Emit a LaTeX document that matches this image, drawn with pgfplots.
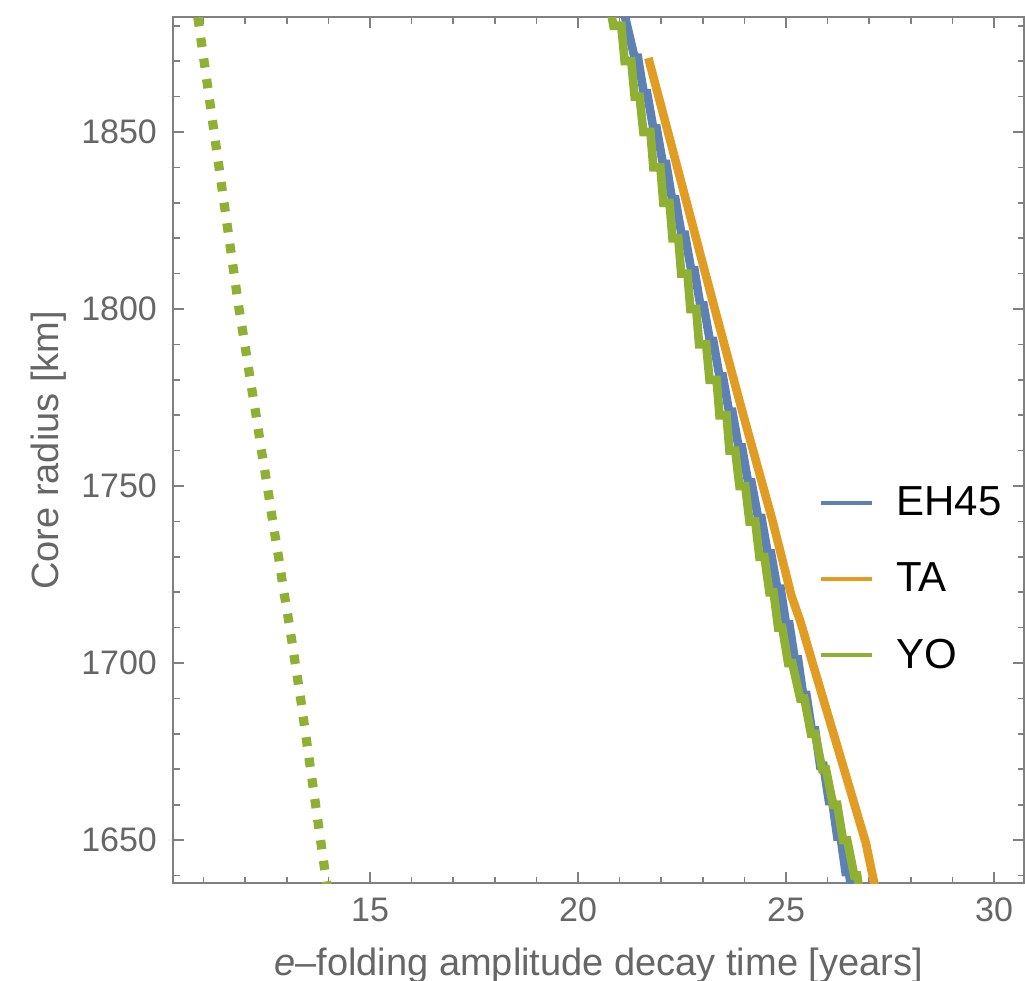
\documentclass[border=0pt]{standalone}
\usepackage{fontspec}
\setmainfont{Liberation Sans}
\usepackage{pgfplots}
\pgfplotsset{compat=1.18}

\definecolor{eh}{RGB}{94,129,181}
\definecolor{ta}{RGB}{225,156,36}
\definecolor{yo}{RGB}{143,176,50}
\definecolor{framegray}{RGB}{128,128,128}
\definecolor{labelgray}{RGB}{102,102,102}

\begin{document}
\begin{tikzpicture}
\begin{axis}[
  at={(0,0)}, anchor=south west,
  scale only axis, width=425.35pt, height=433pt,
  xmin=10.27, xmax=30.72, ymin=1637.8, ymax=1882.4,
  xtick={15,20,25,30}, minor xtick={11,...,30},
  ytick={1650,1700,1750,1800,1850}, minor ytick={1640,1650,...,1880},
  tick align=inside,
  major tick length=5.5pt, minor tick length=3.2pt,
  axis line style={framegray, line width=0.9pt},
  tick style={framegray, line width=0.8pt},
  /pgf/number format/assume math mode=true,
  /pgf/number format/1000 sep={},
  tick label style={font=\fontsize{17}{17}\selectfont, text=labelgray, inner sep=0pt},
  xticklabel style={yshift=-7pt},
  yticklabel style={xshift=-8pt},
  xlabel={{\itshape e}–folding amplitude decay time [years]},
  xlabel style={at={(axis description cs:0.5,-0.1059)}, anchor=base,
    font=\fontsize{19}{19}\selectfont, text=labelgray},
  ylabel={Core radius [km]},
  ylabel style={at={(axis description cs:-0.1355,0.5)}, anchor=base, rotate=0,
    font=\fontsize{19}{19}\selectfont, text=labelgray},
  no markers,
  legend style={at={(rel axis cs:0.759,0.3514)}, anchor=west, draw=none, fill=none,
    inner sep=0pt, row sep=22pt, column sep=11pt,
    font=\fontsize{21}{21}\selectfont, nodes={inner sep=0pt}, cells={anchor=west}},
  legend cell align=left,
  legend image code/.code={\draw[#1, line width=2pt] (0pt,0pt) -- (25.5pt,0pt);},
]

% YO, second model (dotted)
\addplot[yo, line width=4.6pt, dash pattern=on 4.6pt off 5.8pt, forget plot] coordinates {
(10.86,1882.4)(11.01,1870)(11.13,1860)(11.25,1850)(11.37,1840)(11.49,1830)
(11.61,1820)(11.73,1810)(11.85,1800)(11.99,1790)(12.12,1780)(12.26,1770)
(12.39,1760)(12.53,1750)(12.66,1740)(12.80,1730)(12.93,1720)(13.07,1710)
(13.20,1700)(13.33,1690)(13.45,1680)(13.57,1670)(13.69,1660)(13.81,1650)
(13.93,1640)(13.98,1636)
};

% EH45
\addplot[eh, line width=4.3pt] coordinates {
(21.10,1884)
(21.36,1871)(21.44,1871)
(21.58,1861)(21.66,1861)
(21.81,1851)(21.89,1851)
(22.04,1841)(22.12,1841)
(22.26,1831)(22.34,1831)
(22.49,1821)(22.57,1821)
(22.72,1811)(22.80,1811)
(22.94,1801)(23.02,1801)
(23.17,1791)(23.25,1791)
(23.40,1781)(23.48,1781)
(23.63,1771)(23.71,1771)
(23.86,1761)(23.94,1761)
(24.09,1751)(24.17,1751)
(24.33,1741)(24.41,1741)
(24.56,1731)(24.64,1731)
(24.79,1721)(24.87,1721)
(25.00,1711)(25.08,1711)
(25.21,1701)(25.29,1701)
(25.41,1691)(25.49,1691)
(25.62,1681)(25.70,1681)
(25.82,1671)(25.90,1671)
(26.03,1661)(26.11,1661)
(26.23,1651)(26.31,1651)
(26.43,1641)(26.51,1641)
(26.57,1636)
};
\addlegendentry{EH45}

% TA
\addplot[ta, line width=4.3pt] coordinates {
(21.69,1870.9)(23.28,1800.3)(23.95,1771)(24.67,1740.4)(25.13,1719)
(25.36,1711.2)(25.64,1699.9)(26.40,1669.8)(26.92,1649.1)(27.12,1637.8)(27.15,1636)
};
\addlegendentry{TA}

% YO
\addplot[yo, line width=4.3pt] coordinates {
(20.79,1884)
(20.85,1880)(21.04,1880)
(21.12,1870)(21.28,1870)
(21.36,1860)(21.48,1860)
(21.57,1850)(21.74,1850)
(21.81,1840)(21.98,1840)
(22.05,1830)(22.20,1830)
(22.27,1820)(22.41,1820)
(22.48,1810)(22.63,1810)
(22.70,1800)(22.84,1800)
(22.91,1790)(23.08,1790)
(23.16,1780)(23.33,1780)
(23.40,1770)(23.57,1770)
(23.64,1760)(23.78,1760)
(23.88,1750)(24.02,1750)
(24.12,1740)(24.26,1740)
(24.36,1730)(24.48,1730)
(24.60,1720)(24.70,1720)
(24.81,1710)(24.91,1710)
(25.05,1700)(25.15,1700)
(25.34,1690)(25.44,1690)
(25.60,1680)(25.70,1680)
(25.87,1670)(25.96,1670)
(26.13,1660)(26.23,1660)
(26.37,1650)(26.47,1650)
(26.64,1640)(26.71,1640)
(26.76,1636)
};
\addlegendentry{YO}

\end{axis}
\pgfresetboundingbox
\path[use as bounding box] (-86.65pt,-48.85pt) rectangle (425.85pt,441.65pt);
\end{tikzpicture}
\end{document}
